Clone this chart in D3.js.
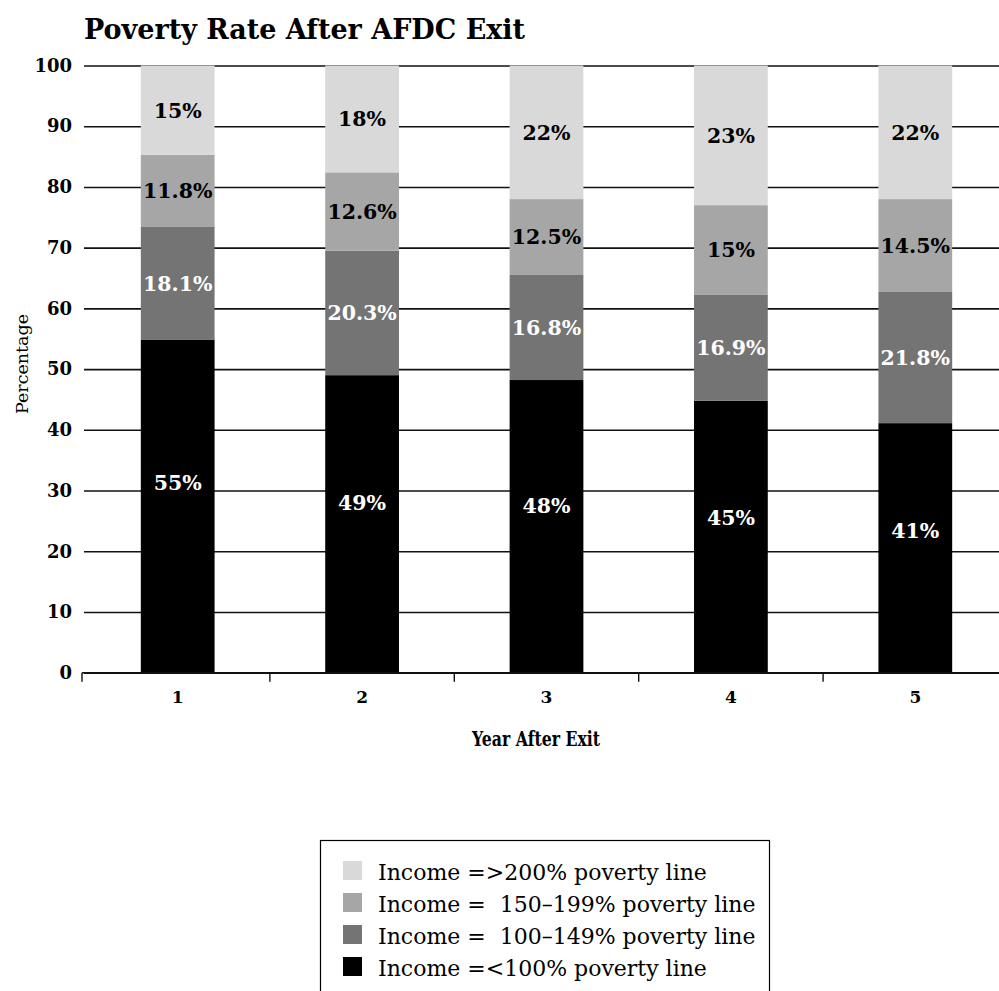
<!DOCTYPE html>
<html>
<head>
<meta charset="utf-8">
<script src="https://cdn.jsdelivr.net/npm/d3@7"></script>
<style>
  html, body { margin: 0; padding: 0; background: #fff; }
  svg { display: block; }
  text { font-family: "DejaVu Serif", serif; }
</style>
</head>
<body>
<div id="chart"></div>
<script>
// categories
const years = ['1', '2', '3', '4', '5'];

// segment heights (percent), bottom to top
const below100 = [54.8, 49.0, 48.2, 44.8, 41.1];
const pct100to149 = [18.7, 20.5, 17.3, 17.5, 21.6];
const pct150to199 = [11.8, 12.9, 12.5, 14.7, 15.3];
const above200 = [14.7, 17.6, 22.0, 23.0, 22.0];

// printed labels on the segments
const below100Labels = ['55%', '49%', '48%', '45%', '41%'];
const pct100to149Labels = ['18.1%', '20.3%', '16.8%', '16.9%', '21.8%'];
const pct150to199Labels = ['11.8%', '12.6%', '12.5%', '15%', '14.5%'];
const above200Labels = ['15%', '18%', '22%', '23%', '22%'];

const yTicks = [0, 10, 20, 30, 40, 50, 60, 70, 80, 90, 100];

const legendLabels = [
    'Income =>200% poverty line',
    'Income =  150\u2013199% poverty line',
    'Income =  100\u2013149% poverty line',
    'Income =<100% poverty line'
];

const width = 999;
const height = 991;

const layers = [
    { key: 'below100', values: below100, labels: below100Labels, fill: '#000000', text: '#ffffff', pos: 0.57 },
    { key: 'p100', values: pct100to149, labels: pct100to149Labels, fill: '#747474', text: '#ffffff', pos: 0.5 },
    { key: 'p150', values: pct150to199, labels: pct150to199Labels, fill: '#a6a6a6', text: '#000000', pos: 0.5 },
    { key: 'above200', values: above200, labels: above200Labels, fill: '#d9d9d9', text: '#000000', pos: 0.5 }
];

const table = years.map((yr, i) => {
    const row = { year: yr };
    layers.forEach(l => { row[l.key] = l.values[i]; });
    return row;
});

const stacked = d3.stack().keys(layers.map(l => l.key))(table);

const x = d3.scaleBand()
    .domain(years)
    .range([85.5, 1007.5])
    .paddingInner(0.6)
    .paddingOuter(0.3);

const y = d3.scaleLinear()
    .domain([0, 100])
    .range([672.7, 65.5]);

const svg = d3.select('#chart')
    .append('svg')
    .attr('width', width)
    .attr('height', height);

// title
svg.append('text')
    .attr('x', 84)
    .attr('y', 39)
    .attr('font-size', 27)
    .attr('font-weight', 'bold')
    .text('Poverty Rate After AFDC Exit');

// y gridlines + labels
const gridLeft = 84;
const yAxis = svg.append('g')
    .attr('transform', `translate(${gridLeft},0)`)
    .call(d3.axisLeft(y)
        .tickValues(yTicks)
        .tickSize(-(width - gridLeft))
        .tickPadding(12));
yAxis.select('.domain').remove();
yAxis.selectAll('.tick line')
    .attr('stroke', '#111')
    .attr('stroke-width', 1.6);
yAxis.selectAll('.tick text')
    .attr('font-family', '"Liberation Serif", serif')
    .attr('font-size', 18)
    .attr('font-weight', 'bold')
    .attr('fill', '#000');

// bars
const layerG = svg.append('g')
    .selectAll('g')
    .data(stacked)
    .enter().append('g')
    .attr('fill', (d, i) => layers[i].fill);

layerG.selectAll('rect')
    .data(d => d)
    .enter().append('rect')
    .attr('x', d => x(d.data.year))
    .attr('width', x.bandwidth())
    .attr('y', d => y(d[1]))
    .attr('height', d => y(d[0]) - y(d[1]));

// segment labels
stacked.forEach((s, li) => {
    const l = layers[li];
    svg.append('g')
        .selectAll('text')
        .data(s)
        .enter().append('text')
        .attr('x', d => x(d.data.year) + x.bandwidth() / 2)
        .attr('y', d => y(d[0] + (d[1] - d[0]) * l.pos))
        .attr('dy', '0.36em')
        .attr('text-anchor', 'middle')
        .attr('font-size', 20.5)
        .attr('font-weight', 'bold')
        .attr('fill', l.text)
        .text((d, i) => l.labels[i]);
});

// x axis
const x0 = y(0);
svg.append('line')
    .attr('x1', 82).attr('x2', width)
    .attr('y1', x0).attr('y2', x0)
    .attr('stroke', '#111')
    .attr('stroke-width', 1.6);

const gap = (x.step() - x.bandwidth()) / 2;
const boundaries = [82].concat(years.slice(1).map(c => x(c) - gap));
svg.append('g')
    .selectAll('line')
    .data(boundaries)
    .enter().append('line')
    .attr('x1', d => d).attr('x2', d => d)
    .attr('y1', x0).attr('y2', x0 + 9)
    .attr('stroke', '#111')
    .attr('stroke-width', 1.4);

const xAxis = svg.append('g')
    .attr('transform', `translate(0,${x0})`)
    .call(d3.axisBottom(x).tickSize(0).tickPadding(18));
xAxis.select('.domain').remove();
xAxis.selectAll('.tick text')
    .attr('font-family', '"Liberation Serif", serif')
    .attr('font-size', 17)
    .attr('font-weight', 'bold')
    .attr('fill', '#000');

// axis titles
svg.append('text')
    .attr('x', 472)
    .attr('y', 746)
    .attr('font-family', '"Liberation Serif", serif')
    .attr('font-size', 21)
    .attr('font-weight', 'bold')
    .attr('textLength', 128)
    .attr('lengthAdjust', 'spacingAndGlyphs')
    .text('Year After Exit');

svg.append('text')
    .attr('transform', 'translate(28,364) rotate(-90)')
    .attr('text-anchor', 'middle')
    .attr('font-size', 17.5)
    .text('Percentage');

// legend
const legend = svg.append('g');
legend.append('rect')
    .attr('x', 320.5).attr('y', 840.5)
    .attr('width', 449).attr('height', 200)
    .attr('fill', 'none')
    .attr('stroke', '#000')
    .attr('stroke-width', 1.2);

const legendFills = layers.map(l => l.fill).reverse();
const rows = legend.selectAll('g.row')
    .data(legendLabels)
    .enter().append('g')
    .attr('class', 'row')
    .attr('transform', (d, i) => `translate(0,${880 + i * 32})`);

rows.append('rect')
    .attr('x', 343).attr('y', -19)
    .attr('width', 19).attr('height', 19)
    .attr('fill', (d, i) => legendFills[i]);

rows.append('text')
    .attr('x', 378)
    .attr('y', 0)
    .attr('font-size', 22)
    .attr('font-weight', 500)
    .attr('fill', '#000')
    .style('white-space', 'pre')
    .text(d => d);
</script>
</body>
</html>
